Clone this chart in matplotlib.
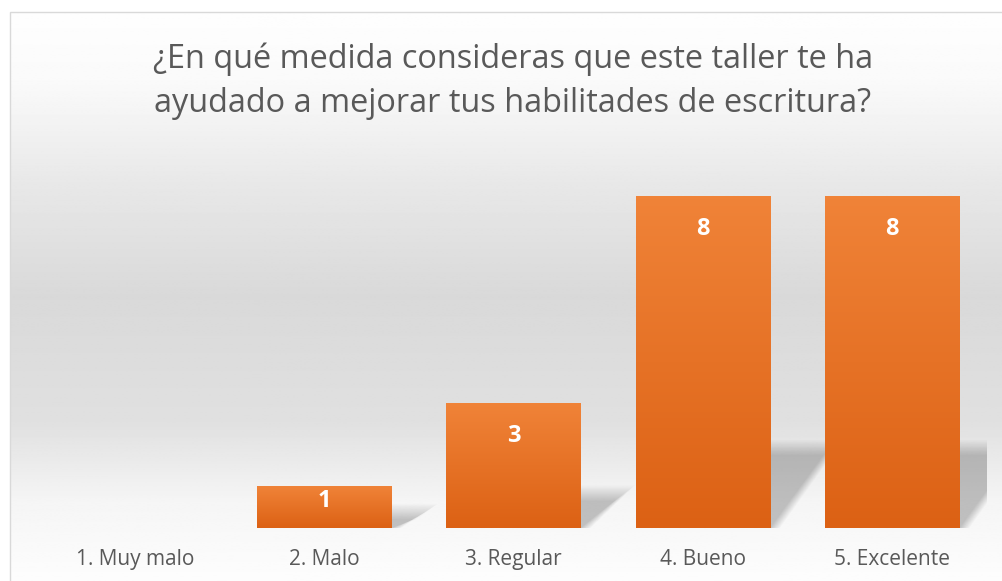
import matplotlib
matplotlib.use("Agg")
import matplotlib.pyplot as plt
import numpy as np
from matplotlib.patches import Polygon, Rectangle

categories = ["1. Muy malo", "2. Malo", "3. Regular", "4. Bueno", "5. Excelente"]
values = [0, 1, 3, 8, 8]
title = "¿En qué medida consideras que este taller te ha\nayudado a mejorar tus habilitades de escritura?"

text_color = "#595959"
bar_top = np.array([240, 131, 56]) / 255
bar_bottom = np.array([220, 97, 20]) / 255
bar_width = 0.71
font = "Open Sans"

fig = plt.figure(figsize=(10.03, 5.81), dpi=100)

# background gradient of the chart area (white -> gray -> white)
bg = fig.add_axes([0, 0, 1, 1], zorder=0)
bg.set_axis_off()
stops_y = [0.0, 0.12, 0.3, 0.5, 0.72, 0.86, 1.0]
stops_v = [254, 250, 232, 217, 224, 245, 253]
yy = np.linspace(0, 1, 400)
col = np.interp(yy, stops_y, stops_v) / 255
grad = np.repeat(col[:, None], 2, axis=1)
bg.imshow(grad, cmap="gray", vmin=0, vmax=1, aspect="auto",
          extent=(10 / 1003, 1, 0, 1 - 12 / 581), origin="upper")
bg.add_patch(Rectangle((10 / 1003, -0.01), 1.2, 1 - 12 / 581 + 0.01,
                       fill=False, edgecolor="#d9d9d9", linewidth=1))
bg.set_xlim(0, 1)
bg.set_ylim(0, 1)

fig.text(513 / 1003, 1 - 81 / 581, title, ha="center", va="center",
         fontsize=23.4, color=text_color, family=font, linespacing=1.45)

ax = fig.add_axes([40 / 1003, 53 / 581, 947 / 1003, (528 - 155) / 581], zorder=1)
ax.patch.set_alpha(0)
x = np.arange(len(categories))

# soft perspective shadows, falling to the right
for xi, h in zip(x, values):
    if h == 0:
        continue
    sh = 0.22 * h
    sx = 0.12 + 0.02 * h
    x0, x1 = xi - bar_width / 2, xi + bar_width / 2
    for k in range(14):
        ex = 0.008 * (13 - k)
        ey = 0.028 * (13 - k)
        pts = [(x0, 0), (x1 + ex * 0.5, 0),
               (x1 + sx + ex, sh + ey), (x0 + sx, sh + ey)]
        ax.add_patch(Polygon(pts, closed=True, facecolor="black",
                             edgecolor="none", alpha=0.016, zorder=1))

# bars with vertical gradient
for xi, h in zip(x, values):
    if h == 0:
        continue
    t = np.linspace(0, 1, 100)[:, None]
    img = (bar_top[None, :] * (1 - t) + bar_bottom[None, :] * t)[:, None, :]
    img = np.repeat(img, 2, axis=1)
    ax.imshow(img, extent=(xi - bar_width / 2, xi + bar_width / 2, 0, h),
              aspect="auto", origin="upper", zorder=2)
    ypos = max(h - 0.78, h / 2 + 0.15)
    ax.text(xi, ypos, str(h), ha="center", va="center", color="white",
            fontsize=17, fontweight="bold", family=font, zorder=3)

ax.set_xlim(-0.5, len(categories) - 0.5)
ax.set_ylim(0, 9)
ax.set_xticks(x)
ax.set_xticklabels(categories, fontsize=15, color=text_color, family=font)
ax.tick_params(axis="x", length=0, pad=15)
ax.set_yticks([])
for s in ax.spines.values():
    s.set_visible(False)

fig.savefig("out.png", dpi=100)
